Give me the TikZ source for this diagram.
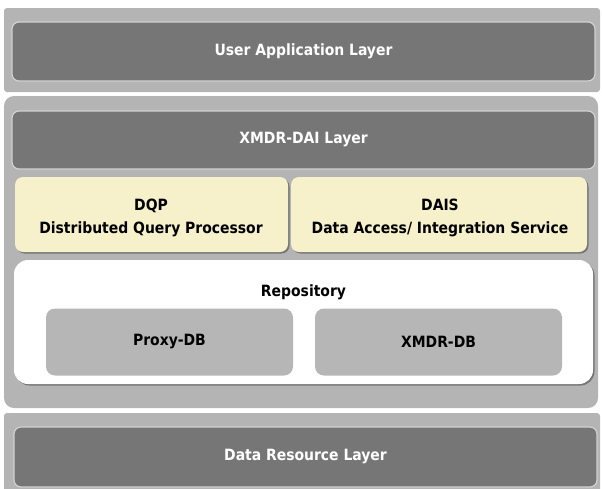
\documentclass[tikz,border=0pt]{standalone}
\usepackage{fontspec}
\setmainfont{DejaVu Sans Condensed}
\usetikzlibrary{shadows}
\definecolor{bandgray}{HTML}{B4B4B4}
\definecolor{darkbox}{HTML}{767676}
\definecolor{darkedge}{HTML}{D2D2D2}
\definecolor{cream}{HTML}{F6F1CB}
\definecolor{dbgray}{HTML}{B6B6B6}
\tikzset{
  band/.style={fill=bandgray, draw=none, rounded corners=#1},
  layerbox/.style={fill=darkbox, draw=darkedge, line width=1.2pt, rounded corners=7pt,
     text=white, font=\bfseries\fontsize{15.5}{18}\selectfont, align=center, inner sep=0pt},
  svcbox/.style={fill=cream, draw=none, rounded corners=8pt,
     drop shadow={shadow xshift=1.5pt, shadow yshift=-1.5pt, fill=black, opacity=0.35}},
  svclbl/.style={text=black, font=\bfseries\fontsize{15.5}{23}\selectfont, align=center, inner sep=0pt},
  repobox/.style={fill=white, draw=none, rounded corners=14pt,
     drop shadow={shadow xshift=1.5pt, shadow yshift=-1.5pt, fill=black, opacity=0.35}},
  dbbox/.style={fill=dbgray, draw=none, rounded corners=9pt,
     text=black, font=\bfseries\fontsize{15.5}{18}\selectfont, inner sep=0pt},
  lbl/.style={text=black, font=\bfseries\fontsize{15.5}{18}\selectfont, inner sep=0pt}
}
\begin{document}
\begin{tikzpicture}[x=1pt,y=-1pt]
\useasboundingbox (0,0) rectangle (602,488);
% top band
\node[band=3pt, minimum width=596pt, minimum height=84pt] (topband) at (302,50) {};
\node[layerbox, minimum width=583pt, minimum height=59pt] (user) at (303.5,51.5) {User Application Layer};
% middle band
\node[band=10pt, minimum width=594pt, minimum height=312pt] (midband) at (301,252) {};
\node[layerbox, minimum width=583pt, minimum height=58pt] (dai) at (303.5,140) {XMDR-DAI Layer};
\node[svcbox, minimum width=273pt, minimum height=75pt] (dqp) at (151.5,214.5) {};
\node[svclbl] (dqplbl) at (151,218) {DQP\\Distributed Query Processor};
\node[svcbox, minimum width=296pt, minimum height=75pt] (dais) at (439,214.5) {};
\node[svclbl] (daislbl) at (440,218) {DAIS\\Data Access/ Integration Service};
\node[repobox, minimum width=579pt, minimum height=124pt] (repo) at (303.5,322) {};
\node[lbl] (repolbl) at (303.5,292) {Repository};
\node[dbbox, minimum width=247pt, minimum height=67pt] (proxy) at (169.5,342) {Proxy-DB};
\node[dbbox, minimum width=247pt, minimum height=67pt] (xdb) at (438.5,342) {XMDR-DB};
% bottom band
\node[band=3pt, minimum width=596pt, minimum height=80pt] (botband) at (302,453) {};
\node[layerbox, minimum width=583pt, minimum height=60pt] (data) at (305.5,457) {Data Resource Layer};
\end{tikzpicture}
\end{document}
